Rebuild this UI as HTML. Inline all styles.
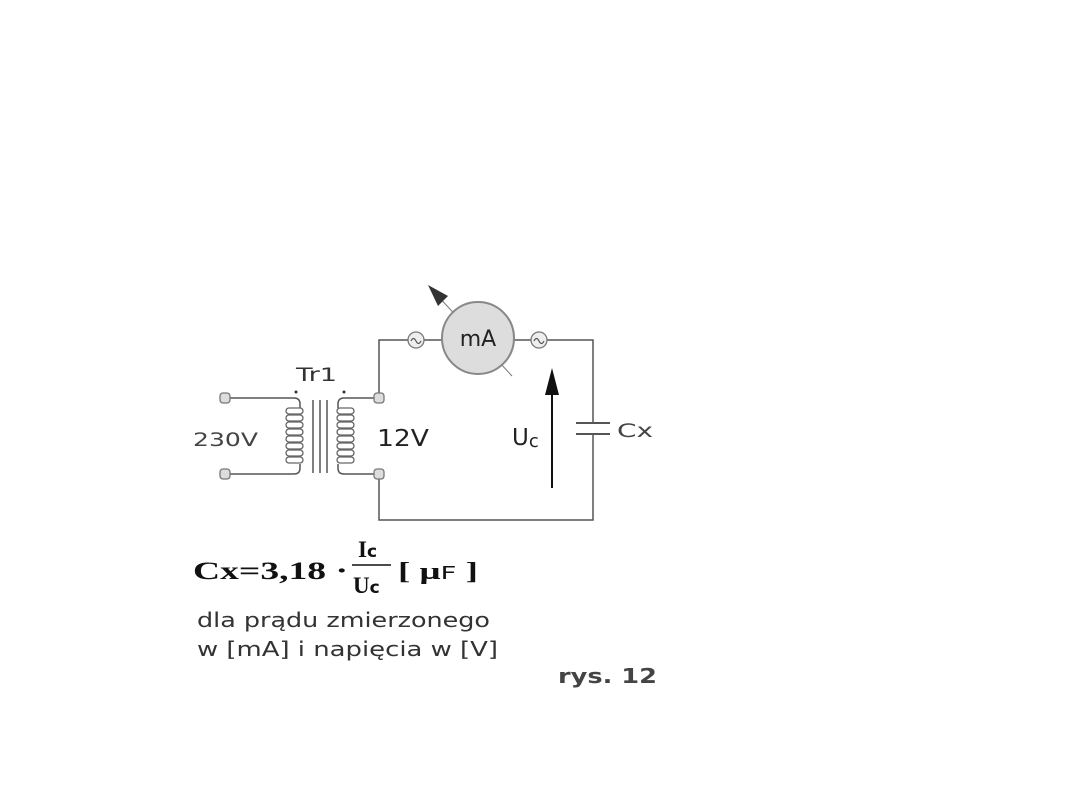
<!DOCTYPE html>
<html><head><style>
html,body{margin:0;padding:0;background:#fff;width:1080px;height:810px;overflow:hidden}
svg{display:block}
.s{font-family:"DejaVu Sans","Liberation Sans",sans-serif}
.f{font-family:"Liberation Serif",serif;font-weight:bold}
</style></head><body>
<svg width="1080" height="810" viewBox="0 0 1080 810">
<g stroke="#555" stroke-width="1.5" fill="none">
<path d="M230 398 H294 Q300 398 300 404 V408"/>
<path d="M230 474 H294 Q300 474 300 468 V464"/>
<path d="M374 398 H344 Q338 398 338 404 V408"/>
<path d="M374 474 H344 Q338 474 338 468 V464"/>
<line x1="313" y1="400" x2="313" y2="473"/>
<line x1="320" y1="400" x2="320" y2="473"/>
<line x1="327" y1="400" x2="327" y2="473"/>
<path d="M379 393 V340 H408"/>
<path d="M424 340 H442"/>
<path d="M514 340 H531"/>
<path d="M547 340 H593 V423"/>
<path d="M593 434 V520 H379 V479"/>
<line x1="576" y1="423" x2="610" y2="423" stroke-width="2"/>
<line x1="576" y1="434" x2="610" y2="434" stroke-width="2"/>
</g>
<g stroke="#666" stroke-width="1.3" fill="none">
<rect x="286" y="408" width="17" height="6" rx="3"/>
<rect x="286" y="415" width="17" height="6" rx="3"/>
<rect x="286" y="422" width="17" height="6" rx="3"/>
<rect x="286" y="429" width="17" height="6" rx="3"/>
<rect x="286" y="436" width="17" height="6" rx="3"/>
<rect x="286" y="443" width="17" height="6" rx="3"/>
<rect x="286" y="450" width="17" height="6" rx="3"/>
<rect x="286" y="457" width="17" height="6" rx="3"/>
<rect x="337" y="408" width="17" height="6" rx="3"/>
<rect x="337" y="415" width="17" height="6" rx="3"/>
<rect x="337" y="422" width="17" height="6" rx="3"/>
<rect x="337" y="429" width="17" height="6" rx="3"/>
<rect x="337" y="436" width="17" height="6" rx="3"/>
<rect x="337" y="443" width="17" height="6" rx="3"/>
<rect x="337" y="450" width="17" height="6" rx="3"/>
<rect x="337" y="457" width="17" height="6" rx="3"/>
</g>
<circle cx="296" cy="392" r="1.5" fill="#333"/>
<circle cx="344" cy="392" r="1.5" fill="#333"/>
<g fill="#ddd" stroke="#777" stroke-width="1.3">
<rect x="220" y="393" width="10" height="10" rx="3"/>
<rect x="220" y="469" width="10" height="10" rx="3"/>
<rect x="374" y="393" width="10" height="10" rx="3"/>
<rect x="374" y="469" width="10" height="10" rx="3"/>
</g>
<g stroke="#777" stroke-width="1.3" fill="#eee">
<circle cx="416" cy="340" r="8"/>
<circle cx="539" cy="340" r="8"/>
</g>
<g stroke="#555" stroke-width="1.2" fill="none">
<path d="M411 341 q2.5 -5 5 0 t5 0"/>
<path d="M534 341 q2.5 -5 5 0 t5 0"/>
</g>
<line x1="512" y1="376" x2="436" y2="294" stroke="#777" stroke-width="1"/>
<polygon points="428,285 448,296 438,306" fill="#333"/>
<circle cx="478" cy="338" r="36" fill="#ddd" stroke="#888" stroke-width="2"/>
<text class="s" x="478" y="346" font-size="22" text-anchor="middle" fill="#222">mA</text>
<line x1="552" y1="488" x2="552" y2="390" stroke="#111" stroke-width="2"/>
<polygon points="552,368 545,395 559,395" fill="#111"/>
<text class="s" x="296" y="381" font-size="19" textLength="41" lengthAdjust="spacingAndGlyphs" fill="#333">Tr1</text>
<text class="s" x="193" y="446" font-size="19" textLength="65" lengthAdjust="spacingAndGlyphs" fill="#444">230V</text>
<text class="s" x="377" y="446" font-size="23" textLength="52" lengthAdjust="spacingAndGlyphs" fill="#222">12V</text>
<text class="s" x="512" y="445" font-size="23" fill="#222">U<tspan font-size="18" dy="2">c</tspan></text>
<text class="s" x="617" y="437" font-size="19" textLength="36" lengthAdjust="spacingAndGlyphs" fill="#444">Cx</text>
<text class="f" x="193" y="579" font-size="25" textLength="155" lengthAdjust="spacingAndGlyphs" fill="#111">Cx=3,18 ·</text>
<text class="f" x="358" y="557" font-size="23" fill="#111">I<tspan class="s" font-size="17">c</tspan></text>
<text class="f" x="353" y="593" font-size="23" fill="#111">U<tspan class="s" font-size="17">c</tspan></text>
<text class="f" x="398" y="579" font-size="24" textLength="80" lengthAdjust="spacingAndGlyphs" fill="#111">[ μ<tspan class="s" font-weight="normal" font-size="18">F</tspan> ]</text>
<line x1="352" y1="565" x2="391" y2="565" stroke="#111" stroke-width="1.5"/>
<text class="s" x="197" y="627" font-size="20" textLength="293" lengthAdjust="spacingAndGlyphs" fill="#333">dla prądu zmierzonego</text>
<text class="s" x="197" y="656" font-size="20" textLength="301" lengthAdjust="spacingAndGlyphs" fill="#333">w [mA] i napięcia w [V]</text>
<text class="s" x="558" y="683" font-size="20" textLength="99" lengthAdjust="spacingAndGlyphs" font-weight="bold" fill="#444">rys. 12</text>
</svg>
</body></html>
